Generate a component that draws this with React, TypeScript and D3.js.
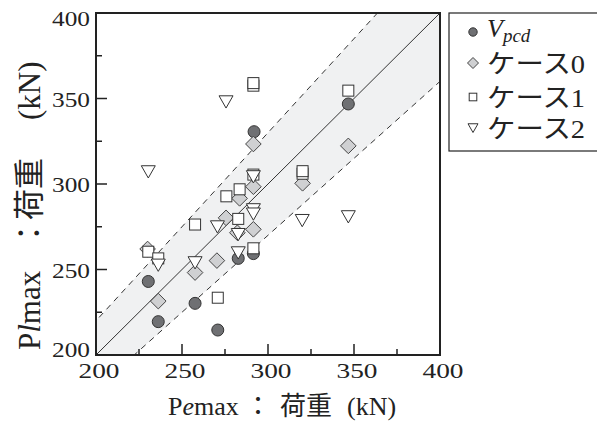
import * as d3 from "d3";
import React, { useEffect, useRef } from "react";

// axis ticks
const majorTicks = [200, 250, 300, 350, 400];
const minorTicks = [225, 275, 325, 375];

// Vpcd (circles)
const vpcdX = [230.4, 236.2, 257.6, 270.8, 282.7, 291.5, 291.9, 346.7];
const vpcdY = [243.0, 219.5, 230.2, 214.6, 256.5, 259.3, 330.6, 346.8];
// ケース0 (diamonds)
const case0X = [230.0, 236.2, 257.6, 270.3, 275.6, 282.2, 283.5, 291.5, 291.5, 291.5, 320.1, 346.7];
const case0Y = [262.0, 231.5, 248.2, 255.2, 280.2, 271.5, 291.6, 273.5, 298.4, 323.4, 300.4, 322.3];
// ケース1 (squares)
const case1X = [230.4, 236.2, 257.6, 270.8, 275.8, 282.7, 283.5, 291.5, 291.5, 291.5, 291.5, 320.1, 320.1, 346.7];
const case1Y = [260.4, 256.5, 276.3, 233.5, 292.8, 279.6, 296.9, 262.4, 305.5, 357.5, 359.0, 306.0, 307.5, 354.6];
// ケース2 (triangles)
const case2X = [230.4, 236.2, 257.6, 270.6, 275.6, 282.7, 282.7, 291.5, 291.5, 291.5, 319.9, 346.7];
const case2Y = [307.2, 252.6, 254.0, 275.0, 348.1, 270.5, 259.8, 304.3, 285.0, 282.5, 278.7, 280.9];

// ±10% band
const bandLow = 0.9;
const bandHigh = 1.1;

const SERIF = "Liberation Serif";
const CJK = "Noto Sans CJK JP";

const zip = (xs: number[], ys: number[]) => xs.map((x, i) => [x, ys[i]]);

export default function App() {
  const svgRef = useRef<SVGSVGElement>(null);

  useEffect(() => {
    const width = 597;
    const height = 421;
    const left = 96;
    const right = 440;
    const top = 13;
    const bottom = 355;

    const svg = d3.select(svgRef.current).attr("width", width).attr("height", height);
    svg.selectAll("*").remove();

    const x = d3.scaleLinear().domain([200, 400]).range([left, right]);
    const y = d3.scaleLinear().domain([200, 400]).range([bottom, top]);

    svg
      .append("defs")
      .append("clipPath")
      .attr("id", "plotclip")
      .append("rect")
      .attr("x", left)
      .attr("y", top)
      .attr("width", right - left)
      .attr("height", bottom - top);

    const plot = svg.append("g").attr("clip-path", "url(#plotclip)");

    // grey band between the dashed lines
    const ends = [150, 450];
    const band = d3
      .area<number>()
      .x((d) => x(d))
      .y0((d) => y(d * bandLow))
      .y1((d) => y(d * bandHigh));
    plot.append("path").attr("d", band(ends)).attr("fill", "#f0f1f2");

    const line = (k: number) =>
      d3
        .line<number>()
        .x((d) => x(d))
        .y((d) => y(d * k));
    plot
      .append("path")
      .attr("d", line(1)(ends))
      .attr("fill", "none")
      .attr("stroke", "#333")
      .attr("stroke-width", 1);
    [bandLow, bandHigh].forEach((k) => {
      plot
        .append("path")
        .attr("d", line(k)(ends))
        .attr("fill", "none")
        .attr("stroke", "#333")
        .attr("stroke-width", 1)
        .attr("stroke-dasharray", "6,5");
    });

    // markers
    const triPath = (s: number) => `M${-s},${-s * 0.85}L${s},${-s * 0.85}L0,${s * 0.9}Z`;
    const diaPath = (s: number) => `M0,${-s}L${s},0L0,${s}L${-s},0Z`;

    svg
      .append("g")
      .selectAll("circle")
      .data(zip(vpcdX, vpcdY))
      .join("circle")
      .attr("cx", (d) => x(d[0]))
      .attr("cy", (d) => y(d[1]))
      .attr("r", 6)
      .attr("fill", "#6f7073")
      .attr("stroke", "#333")
      .attr("stroke-width", 1);

    svg
      .append("g")
      .selectAll("path")
      .data(zip(case0X, case0Y))
      .join("path")
      .attr("transform", (d) => `translate(${x(d[0])},${y(d[1])})`)
      .attr("d", diaPath(7.8))
      .attr("fill", "#cfd0d2")
      .attr("stroke", "#444")
      .attr("stroke-width", 1);

    svg
      .append("g")
      .selectAll("rect")
      .data(zip(case1X, case1Y))
      .join("rect")
      .attr("x", (d) => x(d[0]) - 5.5)
      .attr("y", (d) => y(d[1]) - 5.5)
      .attr("width", 11)
      .attr("height", 11)
      .attr("fill", "#fff")
      .attr("stroke", "#333")
      .attr("stroke-width", 1);

    svg
      .append("g")
      .selectAll("path")
      .data(zip(case2X, case2Y))
      .join("path")
      .attr("transform", (d) => `translate(${x(d[0])},${y(d[1])})`)
      .attr("d", triPath(7))
      .attr("fill", "#fff")
      .attr("stroke", "#333")
      .attr("stroke-width", 1);

    // frame
    svg
      .append("rect")
      .attr("x", left)
      .attr("y", top)
      .attr("width", right - left)
      .attr("height", bottom - top)
      .attr("fill", "none")
      .attr("stroke", "#222")
      .attr("stroke-width", 2);

    // inward ticks, left and bottom
    const tk = svg.append("g").attr("stroke", "#222").attr("stroke-width", 1.5);
    majorTicks.forEach((v) => {
      tk.append("line").attr("x1", left).attr("x2", left + 11).attr("y1", y(v)).attr("y2", y(v));
      tk.append("line").attr("x1", x(v)).attr("x2", x(v)).attr("y1", bottom).attr("y2", bottom - 11);
    });
    minorTicks.forEach((v) => {
      tk.append("line").attr("x1", left).attr("x2", left + 6).attr("y1", y(v)).attr("y2", y(v));
      tk.append("line").attr("x1", x(v)).attr("x2", x(v)).attr("y1", bottom).attr("y2", bottom - 6);
    });

    // tick labels
    const tl = svg.append("g").style("font-family", SERIF).attr("font-size", 22).attr("fill", "#222");
    majorTicks.forEach((v, i) => {
      tl.append("text")
        .attr("x", x(v) + 3)
        .attr("y", 378)
        .attr("text-anchor", "middle")
        .attr("textLength", 41)
        .attr("lengthAdjust", "spacingAndGlyphs")
        .text(v);
      const dy = i === 0 ? 2 : i === majorTicks.length - 1 ? 13 : 8;
      tl.append("text")
        .attr("x", 90)
        .attr("y", y(v) + dy)
        .attr("text-anchor", "end")
        .attr("textLength", 38)
        .attr("lengthAdjust", "spacingAndGlyphs")
        .text(v);
    });

    // axis titles: pieces placed along the baseline
    const title = (g: any, sub: string, fs: number, pos: number[]) => {
      const base = g.append("g").attr("fill", "#222").attr("font-size", fs);
      const p = base.append("text").attr("x", pos[0]).style("font-family", SERIF);
      p.append("tspan").text("P");
      p.append("tspan").attr("font-style", "italic").text(sub);
      p.append("tspan").text("max");
      base.append("text").attr("x", pos[1]).attr("text-anchor", "middle").style("font-family", CJK).text("：");
      base.append("text").attr("x", pos[2]).style("font-family", CJK).text("荷重");
      base.append("text").attr("x", pos[3]).style("font-family", SERIF).text("(kN)");
    };
    title(svg.append("g").attr("transform", "translate(0,415)"), "e", 26, [168, 258, 280, 347]);
    title(svg.append("g").attr("transform", "translate(40,350) rotate(-90)"), "l", 31, [0, 117, 130, 230]);

    // legend
    const lg = svg.append("g");
    lg.append("rect")
      .attr("x", 449)
      .attr("y", 13)
      .attr("width", 200)
      .attr("height", 138)
      .attr("fill", "#fff")
      .attr("stroke", "#222")
      .attr("stroke-width", 1.2);
    const rowY = [32, 63, 97, 128];
    const mx = 473;
    lg.append("circle").attr("cx", mx).attr("cy", rowY[0]).attr("r", 4.2).attr("fill", "#6f7073").attr("stroke", "#333");
    lg.append("path").attr("transform", `translate(${mx},${rowY[1]})`).attr("d", diaPath(5.5)).attr("fill", "#cfd0d2").attr("stroke", "#444");
    lg.append("rect").attr("x", mx - 3.8).attr("y", rowY[2] - 3.8).attr("width", 7.6).attr("height", 7.6).attr("fill", "#fff").attr("stroke", "#333");
    lg.append("path").attr("transform", `translate(${mx},${rowY[3]})`).attr("d", triPath(5)).attr("fill", "#fff").attr("stroke", "#333");

    const v = lg.append("text").attr("x", 487).attr("y", rowY[0] + 5).style("font-family", SERIF).attr("font-style", "italic").attr("fill", "#222");
    v.append("tspan").attr("font-size", 26).text("V");
    v.append("tspan").attr("font-size", 19).attr("dy", 5).text("pcd");

    ["0", "1", "2"].forEach((n, i) => {
      const t = lg
        .append("text")
        .attr("x", 487)
        .attr("y", rowY[i + 1] + 10)
        .attr("font-size", 26)
        .attr("fill", "#222")
        .attr("textLength", 98)
        .attr("lengthAdjust", "spacingAndGlyphs");
      t.append("tspan").style("font-family", CJK).text("ケース");
      t.append("tspan").style("font-family", SERIF).text(n);
    });
  }, []);

  return (
    <svg
      ref={svgRef}
      style={{ position: "absolute", left: 0, top: 0, background: "#fff" }}
    ></svg>
  );
}
